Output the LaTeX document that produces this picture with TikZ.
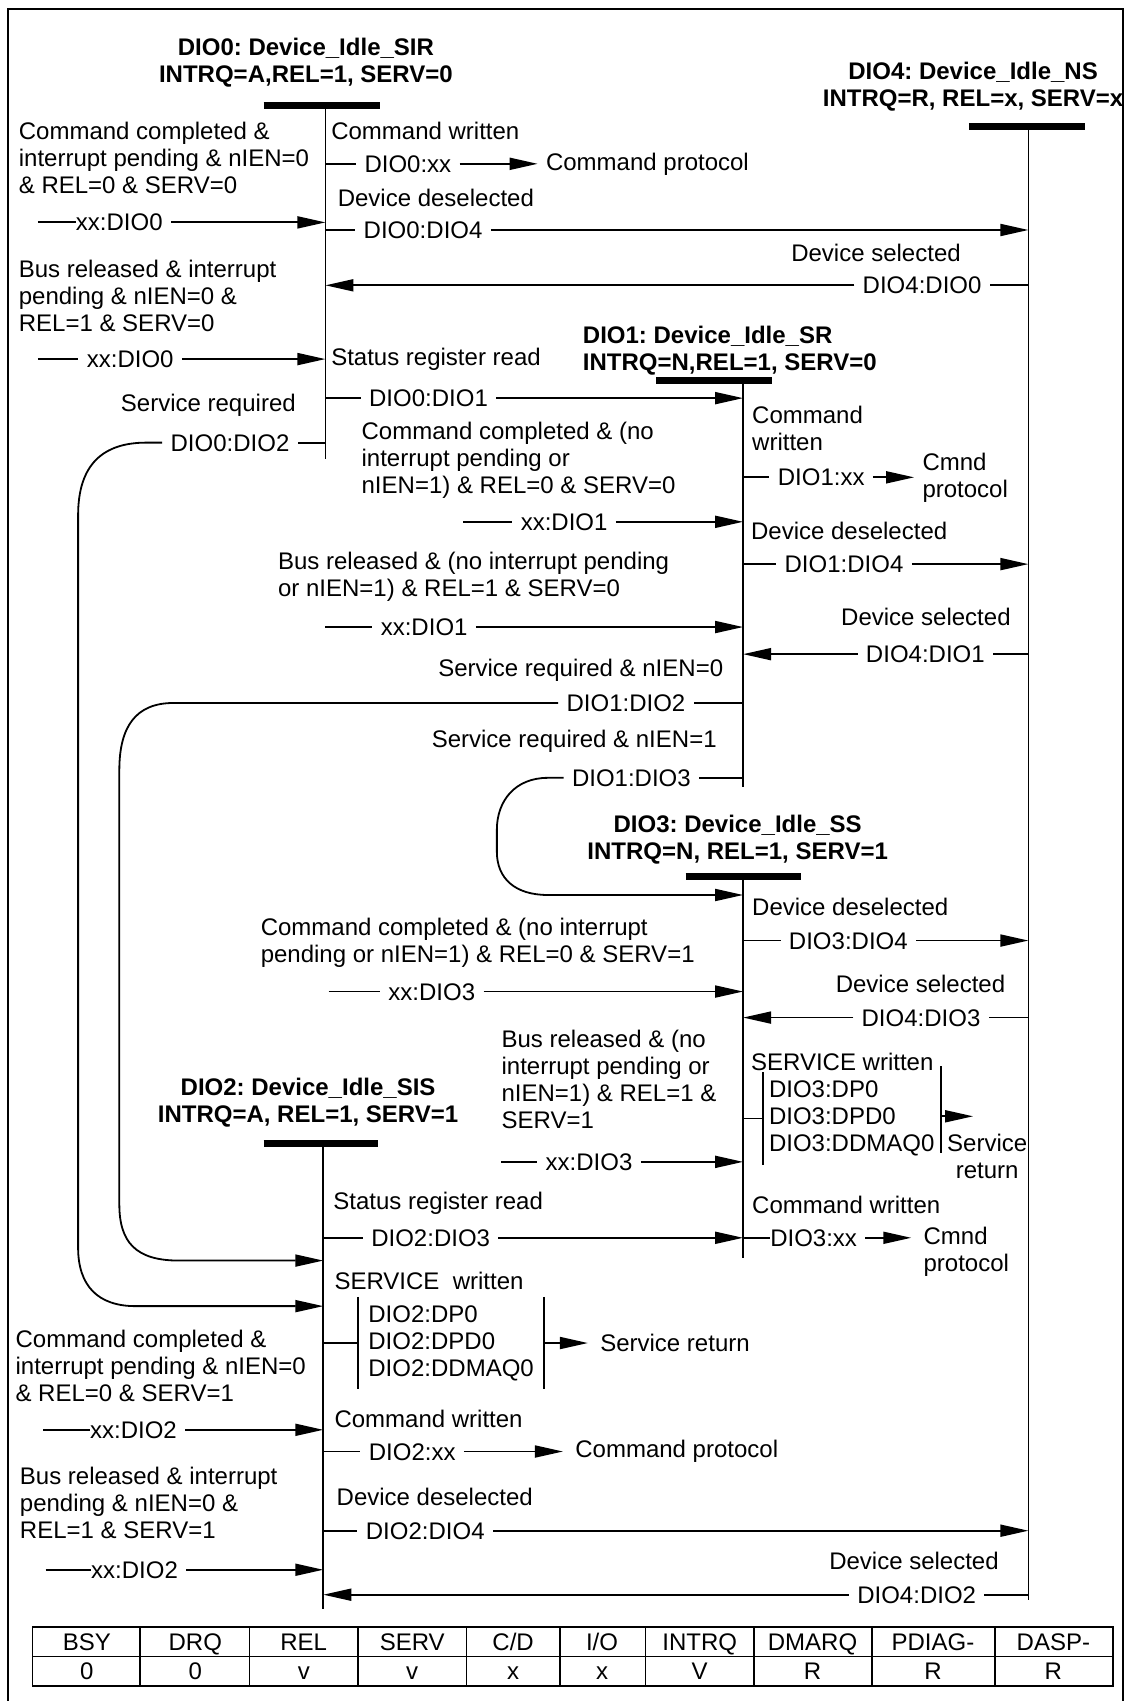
\documentclass[tikz,border=0pt]{standalone}
\usepackage{fontspec}
\setmainfont{Liberation Sans}
\usepackage{tikz}
\usetikzlibrary{arrows.meta,calc}
\tikzset{
    % Base text style
    basetext/.style={
        inner sep=0pt,
        font=\fontsize{12}{13.5}\selectfont\frenchspacing
    },
    % Condition / event text, left aligned
    condtext/.style={
        basetext,
        anchor=west,
        align=left
    },
    % Event text, right aligned
    righttext/.style={
        basetext,
        anchor=east,
        align=right
    },
    % State title
    titletext/.style={
        basetext,
        align=center,
        font=\fontsize{12}{13.5}\selectfont\frenchspacing\bfseries
    },
    % Label sitting on a transition line
    translabel/.style={
        basetext,
        fill=white,
        inner xsep=4pt,
        inner ysep=1pt,
        text height=8.5pt,
        text depth=0pt
    },
    % Bracket of data transitions
    bracketbox/.style={
        condtext,
        inner xsep=3pt,
        inner ysep=4pt
    },
    % Thick bar on top of a state
    statebar/.style={
        line width=3.5pt
    },
    % Vertical line of a state
    stateline/.style={
        line width=0.9pt
    },
    % Plain line
    plainline/.style={
        line width=0.9pt
    },
    % Arrow style
    myarrow/.style={
        -{Triangle[length=14pt,width=6pt]},
        line width=0.9pt
    },
    % Table cell
    cellnode/.style={
        basetext,
        anchor=center,
        text height=8.6pt,
        text depth=0pt
    }
}

\begin{document}
\begin{tikzpicture}[x=0.5423pt,y=-0.5423pt]
    \useasboundingbox (0,0) rectangle (1040,1568);
    % frame
    \draw[line width=1pt] (7,1568) -- (7,8) -- (1035,8) -- (1035,1568);

    % states
    \node[titletext] (t0) at (282,58) {DIO0: Device\_Idle\_SIR\\INTRQ=A,REL=1, SERV=0};
    \coordinate (s0a) at (300,97);
    \coordinate (s0b) at (300,423);
    \draw[statebar] (243,97) -- (350,97);
    \draw[stateline] (s0a) -- (s0b);

    \node[titletext] (t4) at (897,80) {DIO4: Device\_Idle\_NS\\INTRQ=R, REL=x, SERV=x};
    \coordinate (s4a) at (948,117);
    \coordinate (s4b) at (948,1475);
    \draw[statebar] (893,117) -- (1000,117);
    \draw[stateline] (s4a) -- (s4b);

    \node[titletext,anchor=west,align=left] (t1) at (537,323) {DIO1: Device\_Idle\_SR\\INTRQ=N,REL=1, SERV=0};
    \coordinate (s1a) at (685,351);
    \coordinate (s1b) at (685,725);
    \draw[statebar] (605,351) -- (712,351);
    \draw[stateline] (s1a) -- (s1b);

    \node[titletext] (t3) at (680,774) {DIO3: Device\_Idle\_SS\\INTRQ=N, REL=1, SERV=1};
    \coordinate (s3a) at (685,808);
    \coordinate (s3b) at (685,1160);
    \draw[statebar] (632,808) -- (738,808);
    \draw[stateline] (s3a) -- (s3b);

    \node[titletext] (t2) at (284,1016) {DIO2: Device\_Idle\_SIS\\INTRQ=A, REL=1, SERV=1};
    \coordinate (s2a) at (298,1054);
    \coordinate (s2b) at (298,1483);
    \draw[statebar] (243,1054) -- (348,1054);
    \draw[stateline] (s2a) -- (s2b);

    % DIO0 transitions
    \node[condtext] (c01) at (17,146) {Command completed \&\\interrupt pending \& nIEN=0\\\& REL=0 \& SERV=0};
    \coordinate (i01) at (35,205);
    \node[translabel] (l01) at (110,205) {xx:DIO0};
    \draw[plainline] (i01) -- ([xshift=4pt]l01.west);
    \draw[myarrow] (l01) -- (l01 -| s0a);

    \node[condtext] (e01) at (305,121) {Command written};
    \node[translabel] (l02) at (376,151) {DIO0:xx};
    \node[condtext] (p01) at (503,151) {Command protocol};
    \draw[plainline] (l02 -| s0a) -- (l02);
    \draw[myarrow] (l02) -- ([xshift=-4pt]p01.west);

    \node[condtext] (e02) at (311,182) {Device deselected};
    \node[translabel] (l03) at (390,212) {DIO0:DIO4};
    \draw[plainline] (l03 -| s0a) -- (l03);
    \draw[myarrow] (l03) -- (l03 -| s4a);

    \node[condtext] (c02) at (17,273) {Bus released \& interrupt\\pending \& nIEN=0 \&\\REL=1 \& SERV=0};
    \node[righttext] (e03) at (886,233) {Device selected};
    \node[translabel] (l04) at (850,263) {DIO4:DIO0};
    \draw[plainline] (l04 -| s4a) -- (l04);
    \draw[myarrow] (l04) -- (l04 -| s0a);

    \coordinate (i02) at (35,331);
    \node[translabel] (l05) at (120,331) {xx:DIO0};
    \draw[plainline] (i02) -- (l05);
    \draw[myarrow] (l05) -- (l05 -| s0a);

    \node[condtext] (e04) at (305,331) {Status register read};
    \node[translabel] (l06) at (395,367) {DIO0:DIO1};
    \draw[plainline] (l06 -| s0a) -- (l06);
    \draw[myarrow] (l06) -- (l06 -| s1a);

    \node[righttext] (e05) at (273,374) {Service required};
    \node[translabel] (l07) at (212,408) {DIO0:DIO2};
    \coordinate (k02) at (298,1204);
    \draw[plainline] (l07 -| s0a) -- (l07);
    \draw[myarrow] (l07) -- (135,408) .. controls (95,408) and (72,428) .. (72,475)
        -- (72,1150) .. controls (72,1185) and (90,1204) .. (125,1204) -- (k02);

    % DIO1 transitions
    \node[condtext] (e11) at (693,395) {Command\\written};
    \node[translabel] (l11) at (757,440) {DIO1:xx};
    \node[condtext] (p11) at (850,440) {Cmnd\\protocol};
    \draw[plainline] (l11 -| s1a) -- (l11);
    \draw[myarrow] (l11) -- ([xshift=-4pt]p11.west);

    \node[condtext] (e12) at (692,489) {Device deselected};
    \node[translabel] (l12) at (778,520) {DIO1:DIO4};
    \draw[plainline] (l12 -| s1a) -- (l12);
    \draw[myarrow] (l12) -- (l12 -| s4a);

    \node[righttext] (e13) at (932,569) {Device selected};
    \node[translabel] (l13) at (853,603) {DIO4:DIO1};
    \draw[plainline] (l13 -| s4a) -- (l13);
    \draw[myarrow] (l13) -- (l13 -| s1a);

    \node[condtext] (c11) at (333,424) {Command completed \& (no\\interrupt pending or\\nIEN=1) \& REL=0 \& SERV=0};
    \coordinate (i11) at (427,481);
    \node[translabel] (l14) at (520,481) {xx:DIO1};
    \draw[plainline] (i11) -- (l14);
    \draw[myarrow] (l14) -- (l14 -| s1a);

    \node[condtext] (c12) at (256,532) {Bus released \& (no interrupt pending\\or nIEN=1) \& REL=1 \& SERV=0};
    \coordinate (i12) at (300,578);
    \node[translabel] (l15) at (391,578) {xx:DIO1};
    \draw[plainline] (i12) -- (l15);
    \draw[myarrow] (l15) -- (l15 -| s1a);

    \node[righttext] (e14) at (667,618) {Service required \& nIEN=0};
    \node[translabel] (l16) at (577,648) {DIO1:DIO2};
    \coordinate (k12) at (298,1162);
    \draw[plainline] (l16 -| s1a) -- (l16);
    \draw[myarrow] (l16) -- (160,648) .. controls (125,648) and (110,670) .. (110,710)
        -- (110,1110) .. controls (110,1145) and (125,1162) .. (165,1162) -- (k12);

    \node[righttext] (e15) at (661,683) {Service required \& nIEN=1};
    \node[translabel] (l17) at (582,717) {DIO1:DIO3};
    \coordinate (k13) at (685,825);
    \draw[plainline] (l17 -| s1a) -- (l17);
    \draw[myarrow] (l17) -- (505,717) .. controls (475,717) and (458,738) .. (458,765)
        -- (458,785) .. controls (458,810) and (475,825) .. (505,825) -- (k13);

    % DIO3 transitions
    \node[condtext] (e31) at (693,836) {Device deselected};
    \node[translabel] (l31) at (782,867) {DIO3:DIO4};
    \draw[plainline] (l31 -| s3a) -- (l31);
    \draw[myarrow] (l31) -- (l31 -| s4a);

    \node[righttext] (e32) at (927,907) {Device selected};
    \node[translabel] (l32) at (849,938) {DIO4:DIO3};
    \draw[plainline] (l32 -| s4a) -- (l32);
    \draw[myarrow] (l32) -- (l32 -| s3a);

    \node[condtext] (c31) at (240,869) {Command completed \& (no interrupt\\pending or nIEN=1) \& REL=0 \& SERV=1};
    \coordinate (i31) at (303,914);
    \node[translabel] (l33) at (398,914) {xx:DIO3};
    \draw[plainline] (i31) -- (l33);
    \draw[myarrow] (l33) -- (l33 -| s3a);

    \node[condtext] (c32) at (462,995) {Bus released \& (no\\interrupt pending or\\nIEN=1) \& REL=1 \&\\SERV=1};
    \coordinate (i32) at (462,1071);
    \node[translabel] (l34) at (543,1071) {xx:DIO3};
    \draw[plainline] (i32) -- (l34);
    \draw[myarrow] (l34) -- (l34 -| s3a);

    \node[condtext] (e33) at (692,979) {SERVICE written};
    \node[bracketbox] (b31) at (703,1031) {DIO3:DP0\\DIO3:DPD0\\DIO3:DDMAQ0};
    \node[basetext,align=center] (r31) at (910,1066) {Service\\return};
    \coordinate (a31) at (897,1029);
    \draw[plainline] (b31.north west) -- (b31.south west);
    \draw[plainline] ([yshift=3pt]b31.north east) -- ([yshift=6pt]b31.south east);
    \draw[plainline] (b31 -| s3a) -- (b31.west);
    \draw[myarrow] (b31.east |- a31) -- (a31);

    \node[condtext] (e34) at (693,1111) {Command written};
    \node[translabel] (l35) at (750,1141) {DIO3:xx};
    \node[condtext] (p31) at (851,1154) {Cmnd\\protocol};
    \coordinate (a32) at (840,1141);
    \draw[plainline] (l35 -| s3a) -- ([xshift=4pt]l35.west);
    \draw[myarrow] (l35) -- (a32);

    % DIO2 transitions
    \node[condtext] (e21) at (307,1109) {Status register read};
    \node[translabel] (l36) at (397,1141) {DIO2:DIO3};
    \draw[plainline] (l36 -| s2a) -- (l36);
    \draw[myarrow] (l36) -- (l36 -| s3a);

    \node[condtext] (e22) at (308,1181) {SERVICE\ \ written};
    \node[bracketbox,inner xsep=5pt] (b21) at (330,1238) {DIO2:DP0\\DIO2:DPD0\\DIO2:DDMAQ0};
    \node[condtext] (r21) at (553,1238) {Service return};
    \draw[plainline] (b21.north west) -- (b21.south west);
    \draw[plainline] (b21.north east) -- (b21.south east);
    \draw[plainline] (b21 -| s2a) -- (b21.west);
    \draw[myarrow] (b21.east) -- ([xshift=-6pt]r21.west);

    \node[condtext] (c21) at (14,1259) {Command completed \&\\interrupt pending \& nIEN=0\\\& REL=0 \& SERV=1};
    \coordinate (i21) at (40,1318);
    \node[translabel] (l21) at (123,1318) {xx:DIO2};
    \draw[plainline] (i21) -- ([xshift=4pt]l21.west);
    \draw[myarrow] (l21) -- (l21 -| s2a);

    \node[condtext] (e23) at (308,1308) {Command written};
    \node[translabel] (l22) at (380,1338) {DIO2:xx};
    \node[condtext] (p21) at (530,1338) {Command protocol};
    \draw[plainline] (l22 -| s2a) -- (l22);
    \draw[myarrow] (l22) -- ([xshift=-6pt]p21.west);

    \node[condtext] (c22) at (18,1385) {Bus released \& interrupt\\pending \& nIEN=0 \&\\REL=1 \& SERV=1};
    \node[condtext] (e24) at (310,1380) {Device deselected};
    \node[translabel] (l23) at (392,1411) {DIO2:DIO4};
    \draw[plainline] (l23 -| s2a) -- (l23);
    \draw[myarrow] (l23) -- (l23 -| s4a);

    \coordinate (i22) at (42,1447);
    \node[translabel] (l24) at (124,1447) {xx:DIO2};
    \draw[plainline] (i22) -- ([xshift=4pt]l24.west);
    \draw[myarrow] (l24) -- (l24 -| s2a);

    \node[righttext] (e25) at (921,1439) {Device selected};
    \node[translabel] (l25) at (845,1470) {DIO4:DIO2};
    \draw[plainline] (l25 -| s4a) -- (l25);
    \draw[myarrow] (l25) -- (l25 -| s2a);

    % signal table
    \draw[plainline] (30,1500) rectangle (1026,1554);
    \draw[plainline] (30,1527) -- (1026,1527);
    \foreach \x in {129,230,330,430,516,595,695,804,917}
        \draw[plainline] (\x,1500) -- (\x,1554);
    \foreach \x/\h/\v [count=\i] in {80/BSY/0, 180/DRQ/0, 280/REL/v, 380/SERV/v, 473/{C/D}/x,
        555/{I/O}/x, 645/INTRQ/V, 749/DMARQ/R, 860/PDIAG-/R, 971/DASP-/R} {
        \node[cellnode] (h\i) at (\x,1513.5) {\h};
        \node[cellnode] (v\i) at (\x,1540.5) {\v};
    }
\end{tikzpicture}
\end{document}
